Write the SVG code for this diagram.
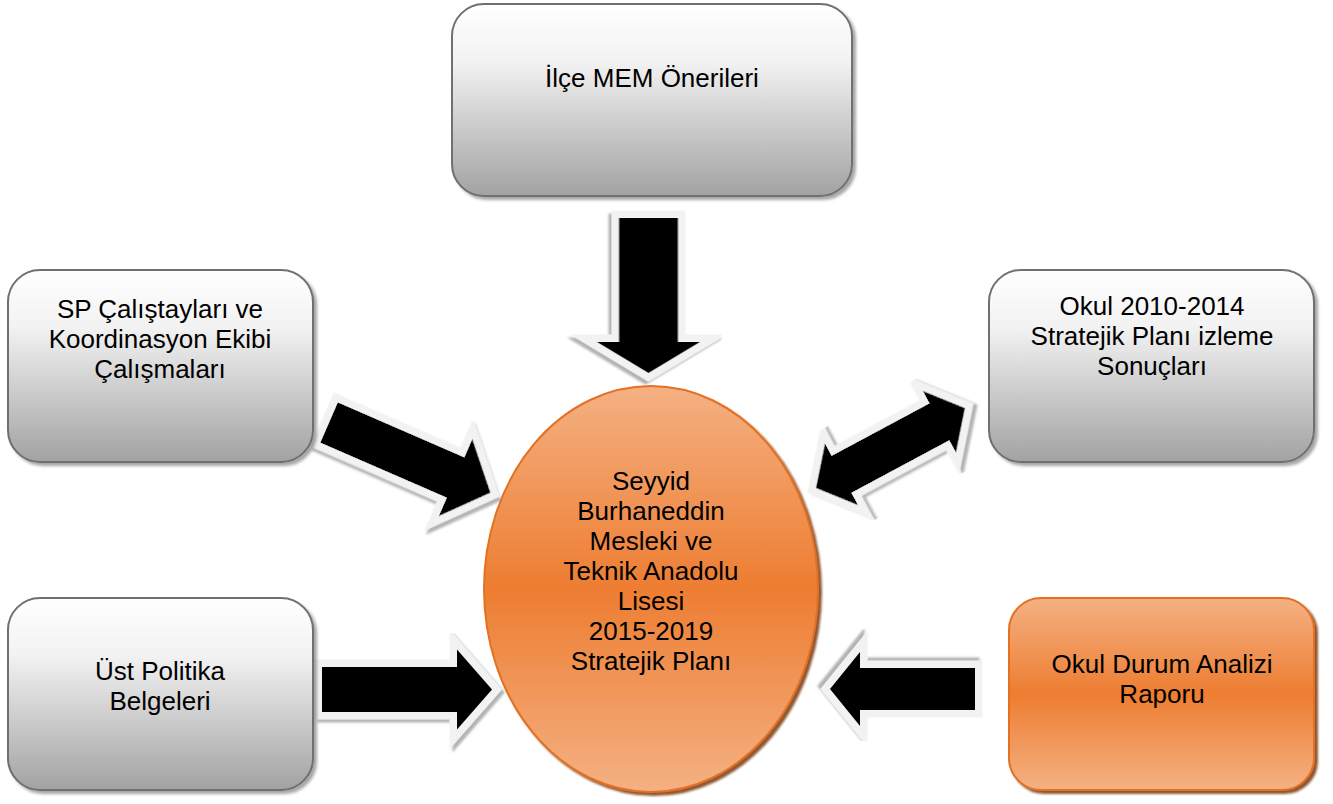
<svg xmlns="http://www.w3.org/2000/svg" width="1333" height="804" viewBox="0 0 1333 804">
  <defs>
    <linearGradient id="grayGrad" x1="0" y1="0" x2="0" y2="1">
      <stop offset="0" stop-color="#ffffff"/>
      <stop offset="0.3" stop-color="#f2f2f2"/>
      <stop offset="1" stop-color="#a2a2a2"/>
    </linearGradient>
    <linearGradient id="orangeGrad" x1="0" y1="0" x2="0" y2="1">
      <stop offset="0" stop-color="#f4b183"/>
      <stop offset="0.5" stop-color="#ed7d31"/>
      <stop offset="1" stop-color="#f4b183"/>
    </linearGradient>
    <filter id="boxShadow" x="-10%" y="-10%" width="125%" height="125%">
      <feDropShadow dx="3" dy="3" stdDeviation="1.5" flood-color="#000000" flood-opacity="0.35"/>
    </filter>
    <filter id="orangeShadow" x="-10%" y="-10%" width="125%" height="125%">
      <feDropShadow dx="3" dy="3" stdDeviation="1" flood-color="#7a3a0c" flood-opacity="0.85"/>
    </filter>
    <filter id="arrowShadow" x="-20%" y="-20%" width="150%" height="150%">
      <feDropShadow dx="3" dy="3" stdDeviation="1" flood-color="#808080" flood-opacity="0.6"/>
    </filter>
  </defs>
  <style>
    .gbox { fill: url(#grayGrad); stroke: #6f6f6f; stroke-width: 2; filter: url(#boxShadow); }
    .obox { fill: url(#orangeGrad); stroke: #e46f22; stroke-width: 2; filter: url(#orangeShadow); }
    .lbl { font-size: 26px; fill: #000000; text-anchor: middle; }
    .arrow { fill: #000000; stroke: #f2f2f2; stroke-width: 15; stroke-linejoin: miter; stroke-miterlimit: 4; paint-order: stroke; filter: url(#arrowShadow); }
  </style>
  <rect width="1333" height="804" fill="#ffffff"/>

  <g id="center" font-family="Liberation Sans, Arial, sans-serif">
    <ellipse cx="651" cy="589" rx="167" ry="203" class="obox"/>
    <text class="lbl" x="651" y="490">Seyyid</text>
    <text class="lbl" x="651" y="520">Burhaneddin</text>
    <text class="lbl" x="651" y="550">Mesleki ve</text>
    <text class="lbl" x="651" y="580">Teknik Anadolu</text>
    <text class="lbl" x="651" y="610">Lisesi</text>
    <text class="lbl" x="651" y="640">2015-2019</text>
    <text class="lbl" x="651" y="670">Stratejik Planı</text>
  </g>

  <g id="connectors">
    <polygon class="arrow" transform="translate(648.5,218) rotate(90)" points="0,-29.5 124,-29.5 124,-51.5 155,0 124,51.5 124,29.5 0,29.5"/>
    <polygon class="arrow" transform="translate(329,422.5) rotate(23.5)" points="0,-22 138,-22 138,-42 176,0 138,42 138,22 0,22"/>
    <polygon class="arrow" transform="translate(816,488) rotate(-28.2)" points="0,0 29,-35 29,-21 140,-21 140,-35 169,0 140,35 140,21 29,21 29,35"/>
    <polygon class="arrow" transform="translate(322,689.5)" points="0,-22.5 135,-22.5 135,-40 170,0 135,40 135,22.5 0,22.5"/>
    <polygon class="arrow" transform="translate(975,689) rotate(180)" points="0,-21 115,-21 115,-37 145,0 115,37 115,21 0,21"/>
  </g>

  <g id="ilce" font-family="Liberation Sans, Arial, sans-serif">
    <rect class="gbox" x="452" y="4" width="400" height="192" rx="32" ry="32"/>
    <text class="lbl" x="652" y="87">İlçe MEM Önerileri</text>
  </g>

  <g id="sp" font-family="Liberation Sans, Arial, sans-serif">
    <rect class="gbox" x="8" y="270" width="305" height="192" rx="32" ry="32"/>
    <text class="lbl" x="160" y="318">SP Çalıştayları ve</text>
    <text class="lbl" x="160" y="348">Koordinasyon Ekibi</text>
    <text class="lbl" x="160" y="378">Çalışmaları</text>
  </g>

  <g id="ust" font-family="Liberation Sans, Arial, sans-serif">
    <rect class="gbox" x="8" y="598" width="305" height="192" rx="32" ry="32"/>
    <text class="lbl" x="160" y="680">Üst Politika</text>
    <text class="lbl" x="160" y="710">Belgeleri</text>
  </g>

  <g id="okul2010" font-family="Liberation Sans, Arial, sans-serif">
    <rect class="gbox" x="989" y="270" width="325" height="192" rx="32" ry="32"/>
    <text class="lbl" x="1152" y="315">Okul 2010-2014</text>
    <text class="lbl" x="1152" y="345">Stratejik Planı izleme</text>
    <text class="lbl" x="1152" y="375">Sonuçları</text>
  </g>

  <g id="durum" font-family="Liberation Sans, Arial, sans-serif">
    <rect class="obox" x="1009" y="598" width="305" height="192" rx="32" ry="32"/>
    <text class="lbl" x="1162" y="673">Okul Durum Analizi</text>
    <text class="lbl" x="1162" y="703">Raporu</text>
  </g>
</svg>
